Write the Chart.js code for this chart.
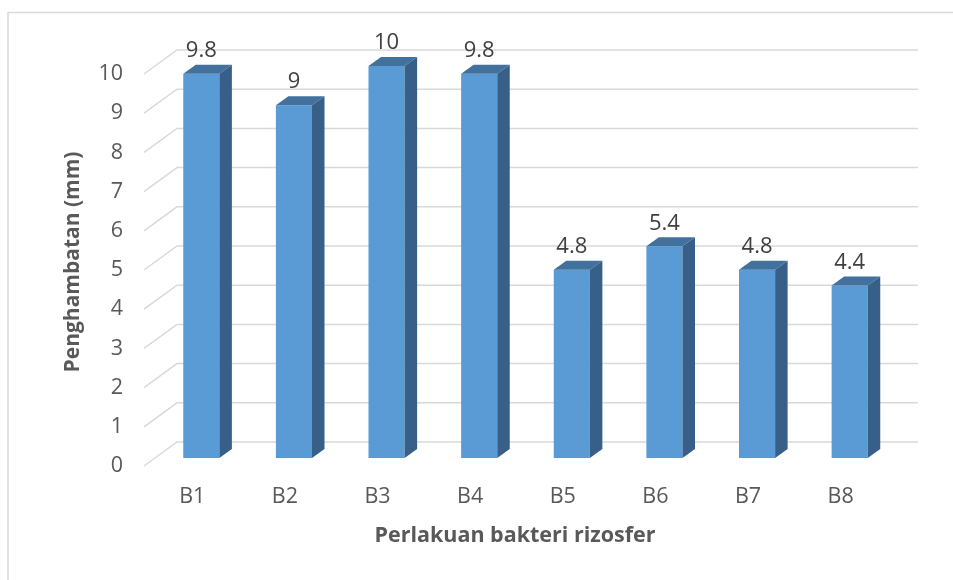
<!DOCTYPE html>
<html>
<head>
<meta charset="utf-8">
<title>Penghambatan bakteri rizosfer</title>
<script src="https://cdn.jsdelivr.net/npm/chart.js@4.4.0/dist/chart.umd.min.js"></script>
<style>
  html, body { margin: 0; padding: 0; background: #ffffff; }
  #wrap { width: 953px; height: 580px; position: relative; }
</style>
</head>
<body>
<div id="wrap"><canvas id="chart" width="953" height="580"></canvas></div>
<script>
// ---- data ----
const categories = ['B1', 'B2', 'B3', 'B4', 'B5', 'B6', 'B7', 'B8'];
const inhibition = [9.8, 9, 10, 9.8, 4.8, 5.4, 4.8, 4.4];
const yTicks = [0, 1, 2, 3, 4, 5, 6, 7, 8, 9, 10];
const yTitle = 'Penghambatan (mm)';
const xTitle = 'Perlakuan bakteri rizosfer';

// ---- look ----
const FONT = '"Open Sans", "Liberation Sans", sans-serif';
const TEXT_GREY = '#595959';
const LABEL_GREY = '#404040';
const GRID = '#d9d9d9';
const FACE = '#5b9bd5';
const TOP_FACE = '#41719c';
const SIDE_FACE = '#375f87';

// oblique 3D offsets, measured from the plane of the bar fronts
const WALL_BACK = { dx: 22, dy: -16 };
const WALL_FRONT = { dx: -11, dy: 8 };
const BAR_DEPTH = { dx: 12.5, dy: -9 };

// outer frame of the chart object
const framePlugin = {
  id: 'frame',
  beforeDraw(chart) {
    const ctx = chart.ctx;
    ctx.save();
    ctx.strokeStyle = GRID;
    ctx.lineWidth = 1.5;
    ctx.beginPath();
    ctx.moveTo(8, chart.height);
    ctx.lineTo(8, 12.5);
    ctx.lineTo(chart.width, 12.5);
    ctx.stroke();
    ctx.restore();
  }
};

// side wall + back wall gridlines, taken from the y scale
const wallsPlugin = {
  id: 'walls',
  beforeDatasetsDraw(chart) {
    const { ctx, chartArea } = chart;
    const y = chart.scales.y;
    ctx.save();
    ctx.strokeStyle = GRID;
    ctx.lineWidth = 1.5;
    y.ticks.forEach(t => {
      const py = y.getPixelForValue(t.value);
      ctx.beginPath();
      ctx.moveTo(chartArea.left + WALL_FRONT.dx, py + WALL_FRONT.dy);
      ctx.lineTo(chartArea.left + WALL_BACK.dx, py + WALL_BACK.dy);
      ctx.lineTo(chartArea.right + WALL_BACK.dx, py + WALL_BACK.dy);
      ctx.stroke();
    });
    ctx.restore();
  }
};

// top and side faces of each column, then its value label
const columnsPlugin = {
  id: 'columns3d',
  afterDatasetsDraw(chart) {
    const ctx = chart.ctx;
    const meta = chart.getDatasetMeta(0);
    const values = chart.data.datasets[0].data;
    ctx.save();
    meta.data.forEach((bar, i) => {
      const { x, y, base, width } = bar.getProps(['x', 'y', 'base', 'width'], true);
      const l = x - width / 2, r = x + width / 2;
      const { dx, dy } = BAR_DEPTH;
      // top
      ctx.fillStyle = TOP_FACE;
      ctx.beginPath();
      ctx.moveTo(l, y);
      ctx.lineTo(l + dx, y + dy);
      ctx.lineTo(r + dx, y + dy);
      ctx.lineTo(r, y);
      ctx.closePath();
      ctx.fill();
      // side
      ctx.fillStyle = SIDE_FACE;
      ctx.beginPath();
      ctx.moveTo(r, y);
      ctx.lineTo(r + dx, y + dy);
      ctx.lineTo(r + dx, base + dy);
      ctx.lineTo(r, base);
      ctx.closePath();
      ctx.fill();
      // value
      ctx.fillStyle = LABEL_GREY;
      ctx.font = '22px ' + FONT;
      ctx.textAlign = 'center';
      ctx.textBaseline = 'middle';
      ctx.fillText(String(values[i]), x, y - 23);
    });
    ctx.restore();
  }
};

// horizontal axis title
const xTitlePlugin = {
  id: 'xTitle',
  afterDraw(chart) {
    const ctx = chart.ctx;
    ctx.save();
    ctx.fillStyle = TEXT_GREY;
    ctx.font = 'bold 21.5px ' + FONT;
    ctx.textAlign = 'center';
    ctx.textBaseline = 'middle';
    ctx.fillText(xTitle, 515, 536);
    ctx.restore();
  }
};

new Chart(document.getElementById('chart'), {
  type: 'bar',
  data: {
    labels: categories,
    datasets: [{
      data: inhibition,
      backgroundColor: FACE,
      borderWidth: 0,
      barPercentage: 0.39,
      categoryPercentage: 1.0
    }]
  },
  options: {
    responsive: false,
    animation: false,
    devicePixelRatio: 1,
    layout: { padding: { left: 0, right: 57, top: 66, bottom: 0 } },
    plugins: {
      legend: { display: false },
      tooltip: { enabled: false }
    },
    scales: {
      x: {
        grid: { display: false, drawTicks: false },
        border: { display: false },
        ticks: {
          color: TEXT_GREY,
          font: { family: FONT, size: 21.5 },
          padding: 26,
          labelOffset: -9
        },
        afterFit(scale) { scale.height = 122; }
      },
      y: {
        min: 0,
        max: 10,
        grid: { display: false, drawTicks: false },
        border: { display: false },
        afterBuildTicks(scale) { scale.ticks = yTicks.map(v => ({ value: v })); },
        ticks: {
          color: TEXT_GREY,
          font: { family: FONT, size: 21.5 },
          padding: 32,
          labelOffset: 8
        },
        title: {
          display: true,
          text: yTitle,
          color: TEXT_GREY,
          font: { family: FONT, size: 21, weight: 'bold' },
          padding: { top: 60, bottom: 0 }
        },
        afterFit(scale) { scale.width = 155; }
      }
    }
  },
  plugins: [framePlugin, wallsPlugin, columnsPlugin, xTitlePlugin]
});
</script>
</body>
</html>
